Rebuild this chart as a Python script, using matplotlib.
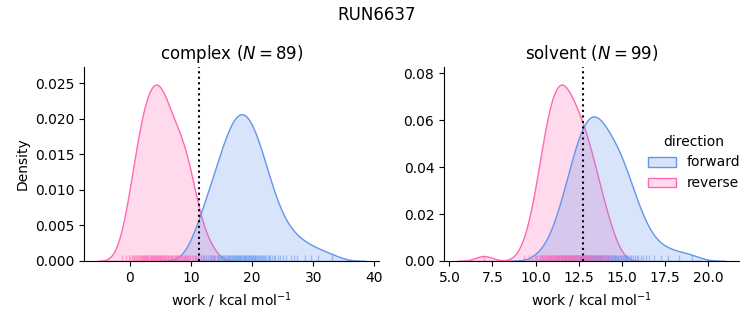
import matplotlib
matplotlib.use('Agg')
import matplotlib.pyplot as plt
import numpy as np
import pandas as pd
import seaborn as sns

# work values (kcal/mol)
complex_forward = [
    10.6, 11.2, 11.6, 11.9, 12.2, 12.4, 12.8, 13.05, 13.3, 13.6,
    13.8, 14.0, 14.25, 14.45, 14.6, 14.8, 14.95, 15.15, 15.3, 15.45,
    15.6, 15.75, 15.9, 16.05, 16.15, 16.3, 16.45, 16.55, 16.7, 16.8,
    16.95, 17.05, 17.15, 17.3, 17.4, 17.55, 17.65, 17.75, 17.9, 18.0,
    18.1, 18.25,
    18.35, 18.5, 18.6, 18.7, 18.85, 18.95, 19.05, 19.2, 19.3, 19.45,
    19.55, 19.65, 19.8, 19.9, 20.05, 20.15, 20.3, 20.45, 20.55, 20.7,
    20.85, 21.0, 21.15, 21.3, 21.45, 21.65, 21.8, 22.0, 22.15, 22.35,
    22.6, 22.8, 23.0, 23.3, 23.55, 23.8, 24.2, 24.6, 25.05, 25.6,
    26.3, 27.4,
    26.8, 28.6, 29.6, 30.8, 33.0,
]
complex_reverse = [
    -1.2, -0.6, -0.1,
    0.1, 0.3, 0.5, 0.7, 0.9,
    1.1, 1.25, 1.4, 1.55, 1.7, 1.85, 1.95,
    2.05, 2.15, 2.3, 2.4, 2.5, 2.6, 2.7, 2.8, 2.9,
    3.05, 3.15, 3.25, 3.4, 3.5, 3.6, 3.7, 3.8, 3.9,
    4.0, 4.1, 4.2, 4.3, 4.4, 4.5, 4.6, 4.7, 4.8, 4.9, 4.95,
    5.05, 5.15, 5.3, 5.4, 5.5, 5.6, 5.7, 5.8, 5.95,
    6.05, 6.2, 6.3, 6.45, 6.55, 6.7, 6.8, 6.95,
    7.05, 7.2, 7.35, 7.5, 7.6, 7.75, 7.9,
    8.05, 8.2, 8.35, 8.5, 8.65, 8.8, 8.95,
    9.1, 9.25, 9.4, 9.55, 9.7, 9.9,
    10.1, 10.35, 10.6, 10.85,
    11.2, 11.7,
    12.5,
    13.4,
]
solvent_forward = [
    10.4, 10.85,
    11.15, 11.3, 11.45,
    11.55, 11.63, 11.71, 11.79, 11.87, 11.95,
    12.03, 12.08, 12.14, 12.2, 12.25, 12.31, 12.37, 12.42, 12.47,
    12.52, 12.56, 12.6, 12.64, 12.68, 12.72, 12.76, 12.8, 12.84, 12.88, 12.92, 12.96,
    13.02, 13.06, 13.1, 13.14, 13.18, 13.22, 13.26, 13.3, 13.34, 13.38, 13.42, 13.45, 13.48,
    13.52, 13.56, 13.6, 13.64, 13.68, 13.72, 13.76, 13.8, 13.84, 13.88, 13.92, 13.96,
    14.03, 14.08, 14.13, 14.18, 14.23, 14.28, 14.33, 14.38, 14.43, 14.47,
    14.53, 14.58, 14.63, 14.68, 14.73, 14.78, 14.83, 14.88, 14.94,
    15.02, 15.07, 15.12, 15.17, 15.22, 15.27, 15.32, 15.38, 15.45,
    15.55, 15.66, 15.77, 15.88, 15.97,
    16.1, 16.22, 16.38,
    16.6, 16.85,
    17.3, 17.7, 18.3, 19.05,
]
solvent_reverse = [
    7.0,
    9.35,
    9.6, 9.8, 9.95,
    10.05, 10.1, 10.18, 10.25, 10.3, 10.37, 10.42, 10.48,
    10.52, 10.56, 10.6, 10.64, 10.68, 10.72, 10.76, 10.8, 10.84, 10.88, 10.92, 10.95, 10.98,
    11.02, 11.05, 11.08, 11.12, 11.15, 11.18, 11.22, 11.25, 11.28, 11.32, 11.35, 11.38, 11.42, 11.45, 11.48,
    11.52, 11.55, 11.58, 11.62, 11.65, 11.68, 11.72, 11.75, 11.78, 11.82, 11.85, 11.88, 11.92, 11.95, 11.98,
    12.02, 12.06, 12.1, 12.14, 12.18, 12.22, 12.26, 12.3, 12.34, 12.38, 12.42, 12.46,
    12.52, 12.56, 12.6, 12.64, 12.68, 12.72, 12.76, 12.8, 12.84, 12.88, 12.92, 12.96,
    13.03, 13.08, 13.13, 13.18, 13.24, 13.3, 13.36, 13.42, 13.48,
    13.55, 13.62, 13.7, 13.78, 13.86, 13.95,
    14.08, 14.22, 14.4,
    14.6,
]

phases = ['complex', 'solvent']
n_cycles = {'complex': 89, 'solvent': 99}
free_energy = {'complex': 11.4, 'solvent': 12.76}
palette = {'forward': '#6495ED', 'reverse': '#FF69B4'}

works = {
    ('complex', 'forward'): complex_forward,
    ('complex', 'reverse'): complex_reverse,
    ('solvent', 'forward'): solvent_forward,
    ('solvent', 'reverse'): solvent_reverse,
}

rows = []
for (phase, direction), values in works.items():
    for w in values:
        rows.append({'phase': phase, 'direction': direction, 'work': w})
df = pd.DataFrame(rows)

g = sns.displot(df, x='work', hue='direction', col='phase', kind='kde',
                fill=True, rug=True, palette=palette,
                hue_order=['forward', 'reverse'], col_order=phases,
                rug_kws=dict(alpha=0.5, height=0.03),
                facet_kws=dict(sharex=False, sharey=False))

g.set_axis_labels('work / kcal mol$^{-1}$', 'Density')
for ax, phase in zip(g.axes.flat, phases):
    ax.set_title('{} ($N={}$)'.format(phase, n_cycles[phase]))
    ax.axvline(free_energy[phase], color='k', ls=':')
    ax.set_ymargin(0.1)
    ax.autoscale_view()

fig = g.figure
fig.set_size_inches(7.53, 3.25)
fig.subplots_adjust(left=0.112, right=0.981, bottom=0.197, top=0.794, wspace=0.221)
fig.suptitle('RUN6637')
fig.savefig('out.png', dpi=100)
